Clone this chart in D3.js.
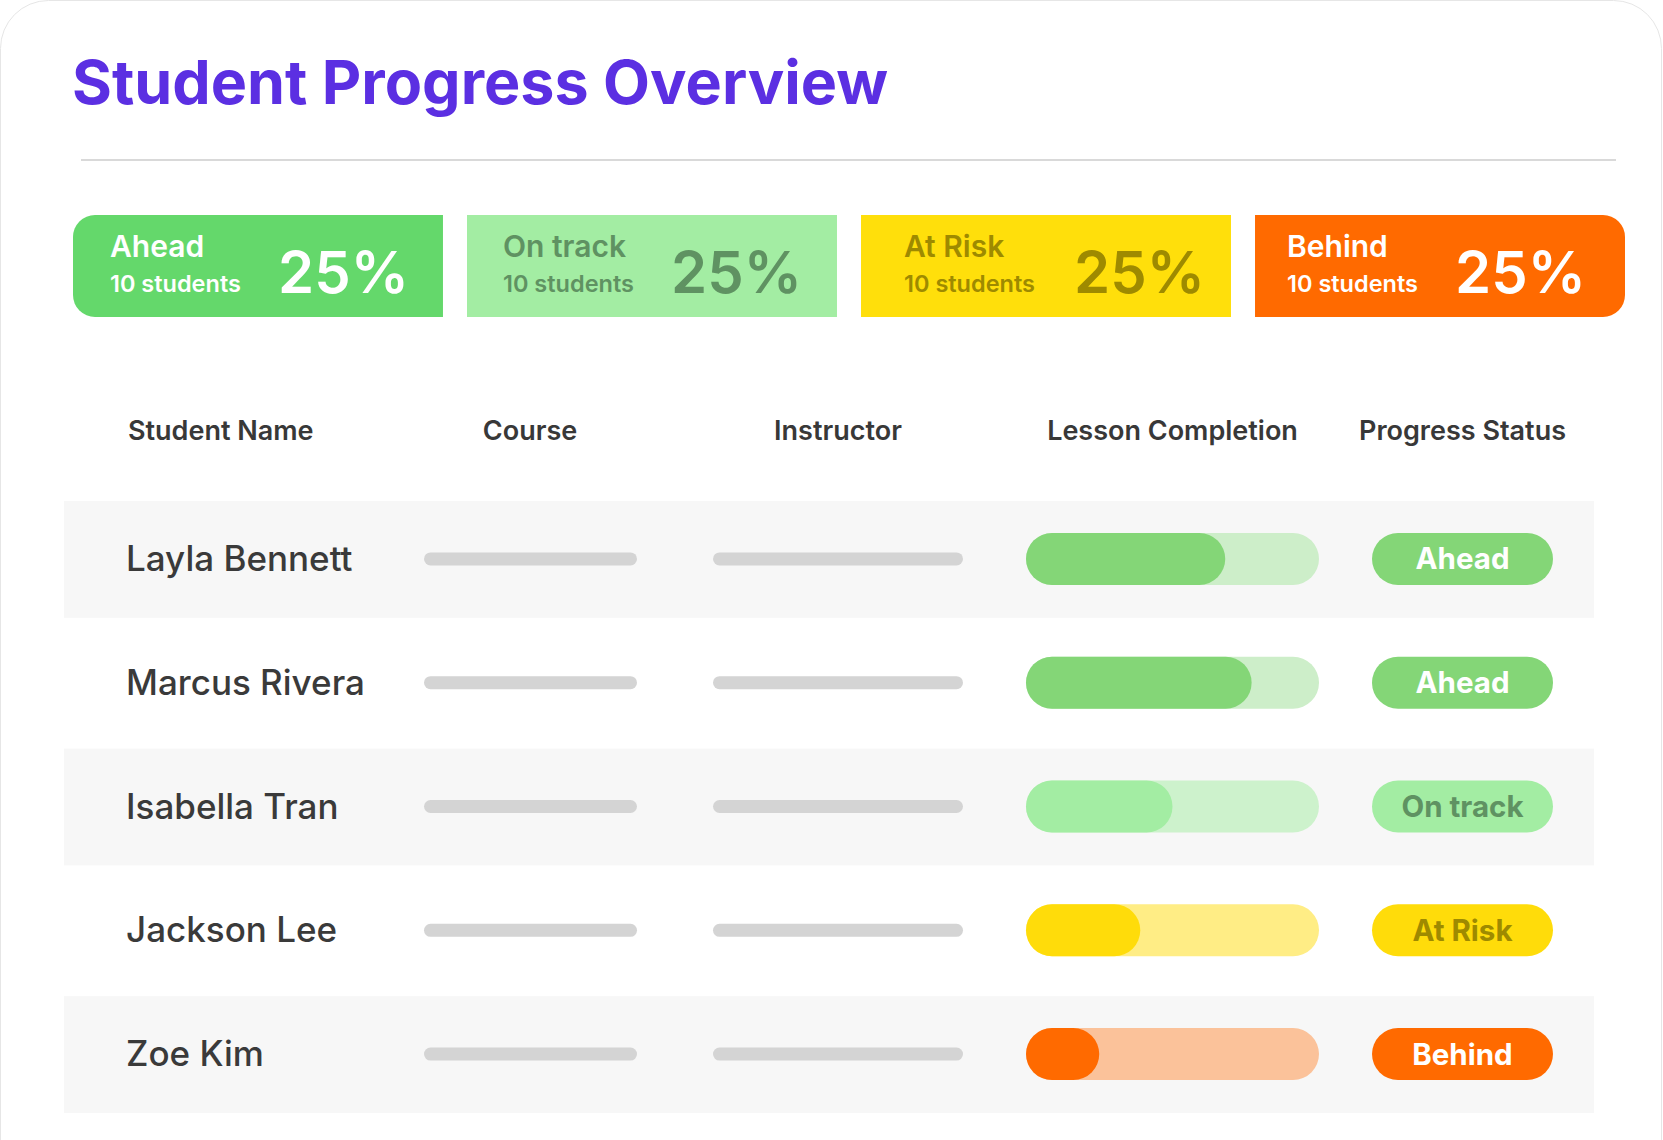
<!DOCTYPE html>
<html>
<head>
<meta charset="utf-8">
<script src="https://cdn.jsdelivr.net/npm/d3@7"></script>
<style>
  html, body { margin: 0; padding: 0; background: #fff; }
  svg { display: block; font-family: Inter, "Noto Sans", sans-serif; }
</style>
</head>
<body>
<svg id="chart"></svg>
<script>
(function(){

  // ---- data ----
  var title = "Student Progress Overview";
  var kpiLabels = ["Ahead", "On track", "At Risk", "Behind"];
  var kpiCounts = [10, 10, 10, 10];
  var kpiShares = [25, 25, 25, 25];
  var columns = ["Student Name", "Course", "Instructor", "Lesson Completion", "Progress Status"];
  var students = ["Layla Bennett", "Marcus Rivera", "Isabella Tran", "Jackson Lee", "Zoe Kim"];
  var completion = [0.68, 0.77, 0.50, 0.39, 0.25];
  var statuses = ["Ahead", "Ahead", "On track", "At Risk", "Behind"];

  // ---- styles per status ----
  var cardFill  = { "Ahead": "#64d86b", "On track": "#a3eda3", "At Risk": "#ffdf0b", "Behind": "#ff6a00" };
  var cardText  = { "Ahead": "#ffffff", "On track": "#5f9262", "At Risk": "#9e8a00", "Behind": "#ffffff" };
  var barFill   = { "Ahead": "#84d677", "On track": "#a3eda3", "At Risk": "#ffdc0a", "Behind": "#ff6a00" };
  var barTrack  = { "Ahead": "#cdeec9", "On track": "#cdf2cc", "At Risk": "#ffed85", "Behind": "#fbc29a" };
  var badgeText = { "Ahead": "#ffffff", "On track": "#5f9262", "At Risk": "#9e8a00", "Behind": "#ffffff" };
  // text insets inside each card (left, right) - the mockup is not perfectly even
  var insetL = [37, 36, 43, 32];
  var insetR = [34, 35, 26, 39];

  var width = 1663, height = 1140;

  var svg = d3.select('#chart')
    .attr('width', width)
    .attr('height', height);

  // outer card
  svg.append('rect')
    .attr('x', 0.5).attr('y', 0.5)
    .attr('width', width - 2).attr('height', height + 60)
    .attr('rx', 48)
    .attr('fill', '#fff')
    .attr('stroke', '#e6e6e6');

  // title + rule
  svg.append('text')
    .attr('x', 72).attr('y', 104)
    .attr('font-size', 61)
    .attr('font-weight', 700)
    .attr('fill', '#5b2fe2')
    .text(title);

  svg.append('line')
    .attr('x1', 81).attr('x2', 1616)
    .attr('y1', 160).attr('y2', 160)
    .attr('stroke', '#d9d9d9')
    .attr('stroke-width', 2);

  // rounded rect with separate corner radii (tl, tr, br, bl)
  function roundRect(x, y, w, h, r) {
    var p = d3.path();
    p.moveTo(x + r[0], y);
    p.lineTo(x + w - r[1], y);
    p.arcTo(x + w, y, x + w, y + r[1], r[1]);
    p.lineTo(x + w, y + h - r[2]);
    p.arcTo(x + w, y + h, x + w - r[2], y + h, r[2]);
    p.lineTo(x + r[3], y + h);
    p.arcTo(x, y + h, x, y + h - r[3], r[3]);
    p.lineTo(x, y + r[0]);
    p.arcTo(x, y, x + r[0], y, r[0]);
    p.closePath();
    return p.toString();
  }

  // ---- KPI cards ----
  var kx = d3.scaleBand()
    .domain(kpiLabels)
    .range([73, 1625])
    .paddingInner(0.061);

  var cardTop = 215, cardH = 102, cr = 22;

  var cards = svg.selectAll('g.kpi')
    .data(kpiLabels)
    .enter()
    .append('g')
    .attr('class', 'kpi')
    .attr('transform', function(d) { return 'translate(' + kx(d) + ',' + cardTop + ')'; });

  cards.append('path')
    .attr('d', function(d, i) {
      var last = kpiLabels.length - 1;
      var r = [i == 0 ? cr : 0, i == last ? cr : 0, i == last ? cr : 0, i == 0 ? cr : 0];
      return roundRect(0, 0, kx.bandwidth(), cardH, r);
    })
    .attr('fill', function(d) { return cardFill[d]; });

  cards.append('text')
    .attr('x', function(d, i) { return insetL[i]; })
    .attr('y', 42)
    .attr('font-size', 30)
    .attr('font-weight', 600)
    .attr('fill', function(d) { return cardText[d]; })
    .text(function(d) { return d; });

  cards.append('text')
    .attr('x', function(d, i) { return insetL[i]; })
    .attr('y', 77)
    .attr('font-size', 23.5)
    .attr('font-weight', 600)
    .attr('fill', function(d) { return cardText[d]; })
    .text(function(d, i) { return kpiCounts[i] + ' students'; });

  cards.append('text')
    .attr('x', function(d, i) { return kx.bandwidth() - insetR[i]; })
    .attr('y', 78)
    .attr('text-anchor', 'end')
    .attr('font-size', 58)
    .attr('font-weight', 600)
    .attr('fill', function(d) { return cardText[d]; })
    .text(function(d, i) { return kpiShares[i] + '%'; });

  // ---- table ----
  var colX = [128, 530, 838, 1172.5, 1462.5];
  var colAnchor = ['start', 'middle', 'middle', 'middle', 'middle'];

  svg.selectAll('text.header')
    .data(columns)
    .enter()
    .append('text')
    .attr('class', 'header')
    .attr('x', function(d, i) { return colX[i]; })
    .attr('y', 440)
    .attr('text-anchor', function(d, i) { return colAnchor[i]; })
    .attr('font-size', 27)
    .attr('font-weight', 600)
    .attr('fill', '#383838')
    .text(function(d) { return d; });

  var y = d3.scaleBand()
    .domain(students)
    .range([497, 1116])
    .paddingInner(0.04)
    .paddingOuter(0.02);

  var bar = d3.scaleLinear()
    .domain([0, 1])
    .range([1026, 1319]);

  var barH = 52;

  var rows = svg.selectAll('g.row')
    .data(students)
    .enter()
    .append('g')
    .attr('class', 'row')
    .attr('transform', function(d) { return 'translate(0,' + (y(d) + y.bandwidth() / 2) + ')'; });

  // zebra band
  rows.filter(function(d, i) { return i % 2 == 0; })
    .append('rect')
    .attr('x', 64)
    .attr('y', -y.step() / 2 + 4)
    .attr('width', 1594 - 64)
    .attr('height', y.step() - 7)
    .attr('fill', '#f7f7f7');

  rows.append('text')
    .attr('x', 126)
    .attr('y', 12)
    .attr('font-size', 35)
    .attr('font-weight', 500)
    .attr('fill', '#3a3a3a')
    .text(function(d) { return d; });

  // placeholder lines for course and instructor
  var placeholders = [[424, 637], [713, 963]];
  placeholders.forEach(function(p) {
    rows.append('rect')
      .attr('x', p[0]).attr('y', -6.5)
      .attr('width', p[1] - p[0]).attr('height', 13)
      .attr('rx', 6.5)
      .attr('fill', '#d4d4d4');
  });

  // completion track + fill
  rows.append('rect')
    .attr('x', bar(0)).attr('y', -barH / 2)
    .attr('width', bar(1) - bar(0)).attr('height', barH)
    .attr('rx', barH / 2)
    .attr('fill', function(d, i) { return barTrack[statuses[i]]; });

  rows.append('rect')
    .attr('x', bar(0)).attr('y', -barH / 2)
    .attr('width', function(d, i) { return bar(completion[i]) - bar(0); })
    .attr('height', barH)
    .attr('rx', barH / 2)
    .attr('fill', function(d, i) { return barFill[statuses[i]]; });

  // status badge
  var badgeW = 181;
  rows.append('rect')
    .attr('x', 1462.5 - badgeW / 2).attr('y', -barH / 2)
    .attr('width', badgeW).attr('height', barH)
    .attr('rx', barH / 2)
    .attr('fill', function(d, i) { return barFill[statuses[i]]; });

  rows.append('text')
    .attr('x', 1462.5)
    .attr('y', 10.5)
    .attr('text-anchor', 'middle')
    .attr('font-size', 29.5)
    .attr('font-weight', 650)
    .attr('fill', function(d, i) { return badgeText[statuses[i]]; })
    .text(function(d, i) { return statuses[i]; });

})();
</script>
</body>
</html>
